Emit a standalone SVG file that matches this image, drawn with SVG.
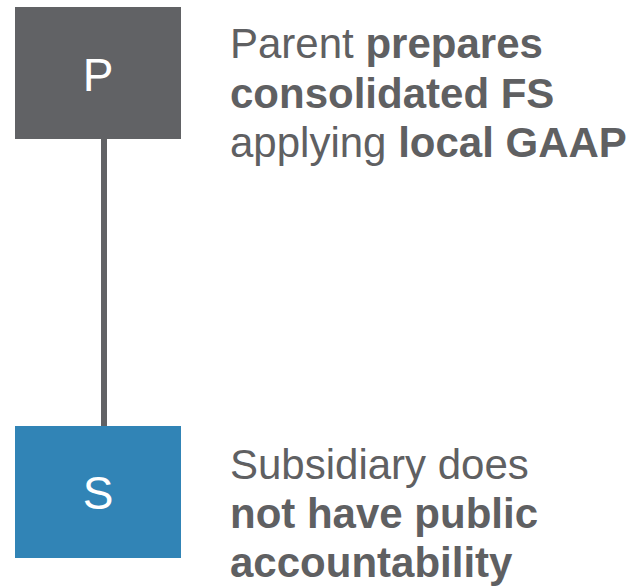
<svg xmlns="http://www.w3.org/2000/svg" width="633" height="587" viewBox="0 0 633 587">
<style>
.lbl{font-family:"Liberation Sans",Arial,sans-serif;font-size:42px;fill:#5f6062}
.b{font-weight:bold}
.box{font-family:"Liberation Sans",Arial,sans-serif;font-size:46px;fill:#ffffff;text-anchor:middle}
</style>
<rect width="633" height="587" fill="#ffffff"/>
<g id="connectors">
<line x1="104" y1="139" x2="104" y2="426" stroke="#616265" stroke-width="6"/>
</g>
<g id="node-P">
<rect x="15" y="7" width="166" height="132" fill="#616265"/>
<text class="box" x="98" y="91">P</text>
</g>
<g id="node-S">
<rect x="15" y="426" width="166" height="132" fill="#3184b6"/>
<text class="box" x="98" y="509">S</text>
</g>
<g id="label-P">
<text class="lbl" x="230" y="58">Parent <tspan class="b">prepares</tspan></text>
<text class="lbl b" x="230" y="108">consolidated FS</text>
<text class="lbl" x="230" y="157">applying <tspan class="b">local GAAP</tspan></text>
</g>
<g id="label-S">
<text class="lbl" x="230" y="479">Subsidiary does</text>
<text class="lbl b" x="230" y="528">not have public</text>
<text class="lbl b" x="230" y="577">accountability</text>
</g>
</svg>
